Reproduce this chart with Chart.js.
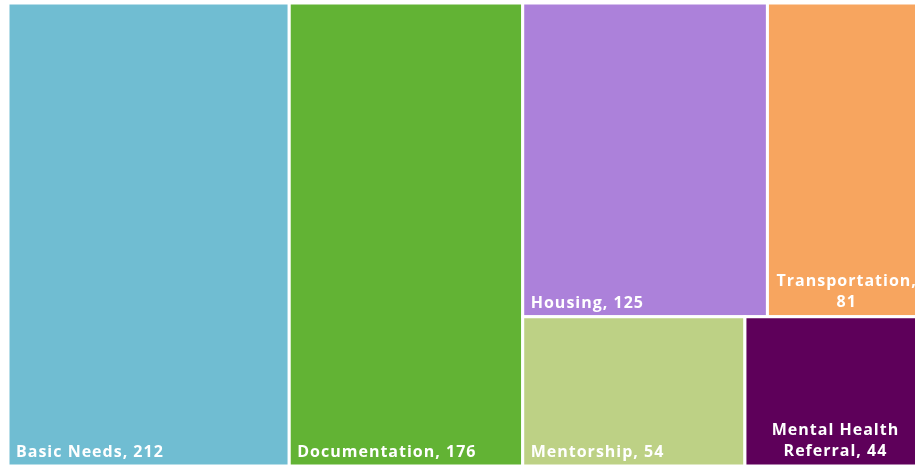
<!DOCTYPE html>
<html>
<head>
<meta charset="utf-8">
<script src="https://cdn.jsdelivr.net/npm/chart.js@4"></script>
<style>
	html, body { margin: 0; padding: 0; background: #ffffff; overflow: hidden; }
	#wrap { width: 926px; height: 466px; }
</style>
</head>
<body>
<div id="wrap"><canvas id="myChart"></canvas></div>
<script>
const categories = ["Basic Needs", "Documentation", "Housing", "Transportation", "Mentorship", "Mental Health Referral"];
const counts = [212, 176, 125, 81, 54, 44];
const tileColors = ["#70bdd2", "#62b334", "#ac81da", "#f7a55f", "#bdd185", "#5e005a"];

// squarified layout in data space 0..1, using the chart area aspect
function worst(row, side) {
	const s = row.reduce((a, b) => a + b.a, 0);
	let w = 0;
	row.forEach((r) => {
		const len = r.a / (s / side);
		const thick = s / side;
		w = Math.max(w, Math.max(len / thick, thick / len));
	});
	return w;
}

function squarify(items, W, H) {
	const total = items.reduce((a, b) => a + b.v, 0);
	let list = items.map((it) => ({ ...it, a: (it.v / total) * W * H }));
	let rect = { x: 0, y: 0, w: W, h: H };
	const out = [];
	while (list.length) {
		const vertical = rect.w >= rect.h; // lay a column along the short side
		const side = vertical ? rect.h : rect.w;
		let row = [list[0]];
		let i = 1;
		while (i < list.length && worst(row.concat([list[i]]), side) <= worst(row, side)) {
			row.push(list[i]);
			i++;
		}
		const s = row.reduce((a, b) => a + b.a, 0);
		const thick = s / side;
		let pos = 0;
		row.forEach((r) => {
			const len = r.a / thick;
			if (vertical) out.push({ ...r, x: rect.x, y: rect.y + pos, w: thick, h: len });
			else out.push({ ...r, x: rect.x + pos, y: rect.y, w: len, h: thick });
			pos += len;
		});
		if (vertical) rect = { x: rect.x + thick, y: rect.y, w: rect.w - thick, h: rect.h };
		else rect = { x: rect.x, y: rect.y + thick, w: rect.w, h: rect.h - thick };
		list = list.slice(i);
	}
	return out.map((r) => ({ ...r, x: r.x / W, y: r.y / H, w: r.w / W, h: r.h / H }));
}

function wrapText(ctx, text, maxW) {
	if (ctx.measureText(text).width <= maxW) return [text];
	const words = text.split(" ");
	const lines = [];
	let cur = "";
	words.forEach((w) => {
		const t = cur ? cur + " " + w : w;
		if (ctx.measureText(t).width > maxW && cur) {
			lines.push(cur);
			cur = w;
		} else cur = t;
	});
	if (cur) lines.push(cur);
	return lines;
}

const treemapPlugin = {
	id: "treemap",
	afterDatasetsDraw(chart) {
		const { ctx, chartArea, scales } = chart;
		const items = categories.map((c, i) => ({ label: c, v: counts[i], color: tileColors[i] }));
		const tiles = squarify(items, chartArea.width, chartArea.height);
		ctx.save();
		tiles.forEach((t) => {
			const x0 = scales.x.getPixelForValue(t.x);
			const x1 = scales.x.getPixelForValue(t.x + t.w);
			const y0 = scales.y.getPixelForValue(t.y);
			const y1 = scales.y.getPixelForValue(t.y + t.h);
			ctx.fillStyle = t.color;
			ctx.fillRect(x0, y0, x1 - x0, y1 - y0);
			ctx.strokeStyle = "#ffffff";
			ctx.lineWidth = 3;
			ctx.strokeRect(x0, y0, x1 - x0, y1 - y0);

			ctx.font = "bold 16px 'Open Sans', sans-serif";
			ctx.letterSpacing = "1px";
			ctx.fillStyle = "#ffffff";
			ctx.textBaseline = "alphabetic";
			const text = t.label + ", " + t.v;
			const lines = wrapText(ctx, text, x1 - x0 - 16);
			const lh = 21;
			if (lines.length === 1) {
				ctx.textAlign = "left";
				ctx.fillText(text, x0 + 8, y1 - 9);
			} else {
				ctx.textAlign = "center";
				const cx = (x0 + x1) / 2;
				lines.forEach((ln, k) => {
					ctx.fillText(ln, cx, y1 - 10 - (lines.length - 1 - k) * lh);
				});
			}
		});
		ctx.restore();
	},
};

const chart = new Chart(document.getElementById("myChart"), {
	type: "scatter",
	data: { datasets: [{ data: [] }] },
	options: {
		responsive: true,
		maintainAspectRatio: false,
		animation: false,
		layout: { padding: { left: 8, top: 3, right: 0, bottom: 0 } },
		plugins: { legend: { display: false }, tooltip: { enabled: false } },
		scales: {
			x: { type: "linear", min: 0, max: 1, display: false },
			y: { type: "linear", min: 0, max: 1, reverse: true, display: false },
		},
	},
	plugins: [treemapPlugin],
});
</script>
</body>
</html>
